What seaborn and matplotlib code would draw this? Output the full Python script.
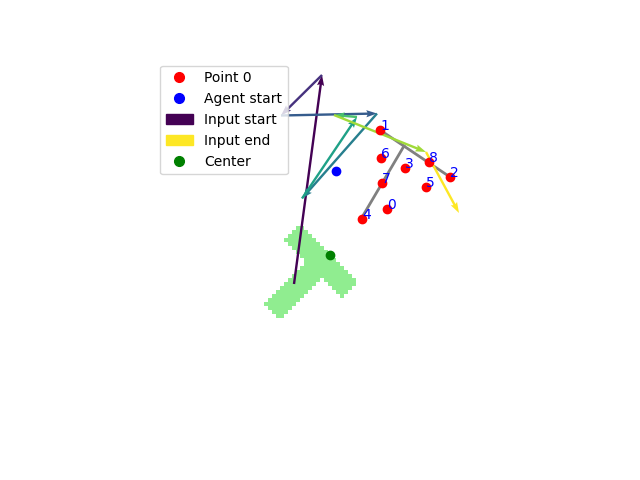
import numpy as np
import matplotlib.pyplot as plt
import seaborn as sns
from matplotlib.path import Path
from matplotlib.patches import Patch
from matplotlib.lines import Line2D

# keypoints (screen-like coords, y grows downward)
point_x = [387, 380, 450, 405, 362, 426, 381, 382, 429]
point_y = [209, 130, 177, 168, 219, 187, 158, 183, 162]

agent_start = (336, 171)
center = (330, 255)

# chain of input positions -> arrows
input_x = [294, 322, 281, 377, 302, 357, 334, 426, 459]
input_y = [284, 75, 115.5, 113.5, 198.5, 117, 115, 152, 213]

# gray skeleton lines
line_a_x = [380, 450]
line_a_y = [130, 177]
line_b_x = [404, 361]
line_b_y = [146, 219]

# T block outline
t_x = [300.5, 358, 341.5, 321, 278.5, 262.5, 305, 284]
t_y = [225, 283, 299, 278, 320, 303.5, 262, 241]

fig, ax = plt.subplots(figsize=(6.4, 4.8), dpi=100)

# rasterized T mask
cell = 4.0
gx = np.arange(256, 368, cell)
gy = np.arange(218, 328, cell)
cx, cy = np.meshgrid(gx + cell / 2, gy + cell / 2)
inside = Path(np.column_stack([t_x, t_y])).contains_points(
    np.column_stack([cx.ravel(), cy.ravel()])).reshape(cx.shape)
img = np.zeros(cx.shape + (4,))
img[inside] = [0.565, 0.933, 0.565, 1.0]  # lightgreen
ax.imshow(img, extent=(gx[0], gx[-1] + cell, gy[-1] + cell, gy[0]),
          origin='upper', interpolation='nearest', aspect='auto', zorder=1)

# arrows
cols = plt.cm.viridis(np.linspace(0, 1, len(input_x) - 1))
ix, iy = np.array(input_x), np.array(input_y)
ax.quiver(ix[:-1], iy[:-1], np.diff(ix), np.diff(iy), color=cols,
          angles='xy', scale_units='xy', scale=1, width=0.0048,
          headwidth=3, headlength=4.5, headaxislength=4, zorder=3)

# gray lines
sns.lineplot(x=line_a_x, y=line_a_y, color='gray', lw=2, sort=False, ax=ax, zorder=2)
sns.lineplot(x=line_b_x, y=line_b_y, color='gray', lw=2, sort=False, ax=ax, zorder=2)

# keypoints
sns.scatterplot(x=point_x, y=point_y, color='red', edgecolor='red', linewidth=1,
                s=36, ax=ax, zorder=4)
for i, (x, y) in enumerate(zip(point_x, point_y)):
    ax.text(x, y, str(i), color='blue', fontsize=10, zorder=5)

sns.scatterplot(x=[agent_start[0]], y=[agent_start[1]], color='blue',
                edgecolor='blue', linewidth=1, s=36, ax=ax, zorder=4)
sns.scatterplot(x=[center[0]], y=[center[1]], color='green',
                edgecolor='green', linewidth=1, s=36, ax=ax, zorder=4)

ax.set_xlim(80, 576)
ax.set_ylim(427.2, 57.6)
ax.axis('off')

handles = [
    Line2D([], [], ls='', marker='o', color='red', markersize=7, label='Point 0'),
    Line2D([], [], ls='', marker='o', color='blue', markersize=7, label='Agent start'),
    Patch(color=plt.cm.viridis(0.0), label='Input start'),
    Patch(color=plt.cm.viridis(1.0), label='Input end'),
    Line2D([], [], ls='', marker='o', color='green', markersize=7, label='Center'),
]
ax.legend(handles=handles, loc='upper left', bbox_to_anchor=(160 / 640, 1 - 65.5 / 480),
          bbox_transform=fig.transFigure, borderaxespad=0)

fig.savefig('out.png', dpi=100)
